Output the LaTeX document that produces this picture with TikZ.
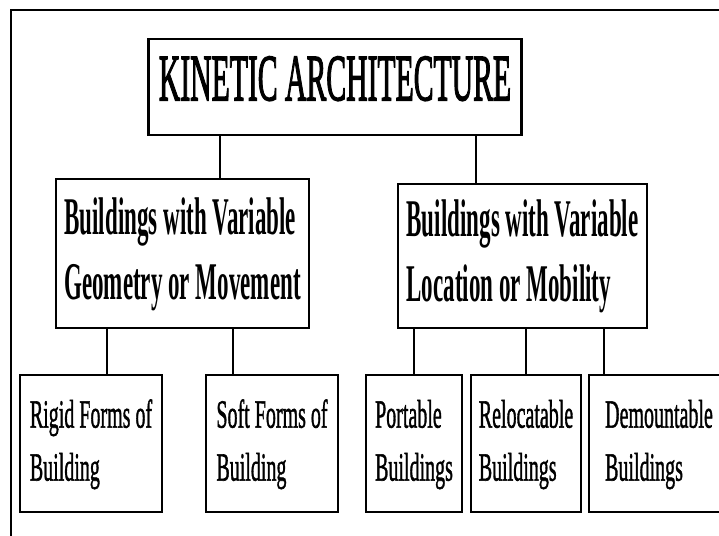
\documentclass[tikz,border=0pt]{standalone}
\usepackage{fontspec}
\setmainfont{Liberation Serif}
\newfontfamily\heavyserif{Liberation Serif}[FakeBold=2.5]
\newfontfamily\midserif{Liberation Serif}[FakeBold=1.5]
\usepackage{graphicx}
\usetikzlibrary{positioning}

% narrow the text the way the chart does
\newcommand{\narrow}[2]{\scalebox{#1}[1]{\begin{tabular}{@{}l@{}}#2\end{tabular}}}

\begin{document}
\begin{tikzpicture}[x=1pt, y=-1pt,
		box/.style={draw, line width=2.6pt, inner sep=0pt},
		top/.style={box, font=\heavyserif\fontsize{66}{66}\selectfont},
		group/.style={box, font=\bfseries\fontsize{53}{65}\selectfont},
		kind/.style={box, minimum height=137pt, font=\midserif\fontsize{40}{53}\selectfont},
		link/.style={line width=1.8pt}]
		\clip (0,0) rectangle (719,535);
		\draw[line width=2pt] (11,10) rectangle (740,560);

		\node [top, minimum width=373pt, minimum height=96pt] (K) at (335,87) {\narrow{0.45}{KINETIC ARCHITECTURE}};

		\node [group, minimum width=253pt, minimum height=149pt] (G) at (182.5,253.5) {\narrow{0.434}{Buildings with Variable\\Geometry or Movement}};
		\node [group, minimum width=249pt, minimum height=144pt] (L) at (522.5,256) {\narrow{0.434}{Buildings with Variable\\Location or Mobility}};

		\node [kind, minimum width=142pt] (R) at (91,443.5) {\narrow{0.5}{Rigid Forms of\\Building}};
		\node [kind, minimum width=132pt] (S) at (272,443.5) {\narrow{0.5}{Soft Forms of\\Building}};
		\node [kind, minimum width=96pt] (P) at (414,443.5) {\narrow{0.5}{Portable\\Buildings}};
		\node [kind, minimum width=110pt] (Re) at (526,443.5) {\narrow{0.5}{Relocatable\\Buildings}};
		\node [kind, minimum width=140pt] (D) at (659,443.5) {\narrow{0.5}{Demountable\\Buildings}};

		\coordinate (kg) at (220,0);
		\coordinate (kl) at (476,0);
		\coordinate (gr) at (107,0);
		\coordinate (gs) at (233,0);
		\coordinate (lp) at (414,0);
		\coordinate (lr) at (526,0);
		\coordinate (ld) at (604,0);

		\path[link] (K.south -| kg) edge (G.north -| kg);
		\path[link] (K.south -| kl) edge (L.north -| kl);
		\path[link] (G.south -| gr) edge (R.north -| gr);
		\path[link] (G.south -| gs) edge (S.north -| gs);
		\path[link] (L.south -| lp) edge (P.north -| lp);
		\path[link] (L.south -| lr) edge (Re.north -| lr);
		\path[link] (L.south -| ld) edge (D.north -| ld);
	\end{tikzpicture}
\end{document}
